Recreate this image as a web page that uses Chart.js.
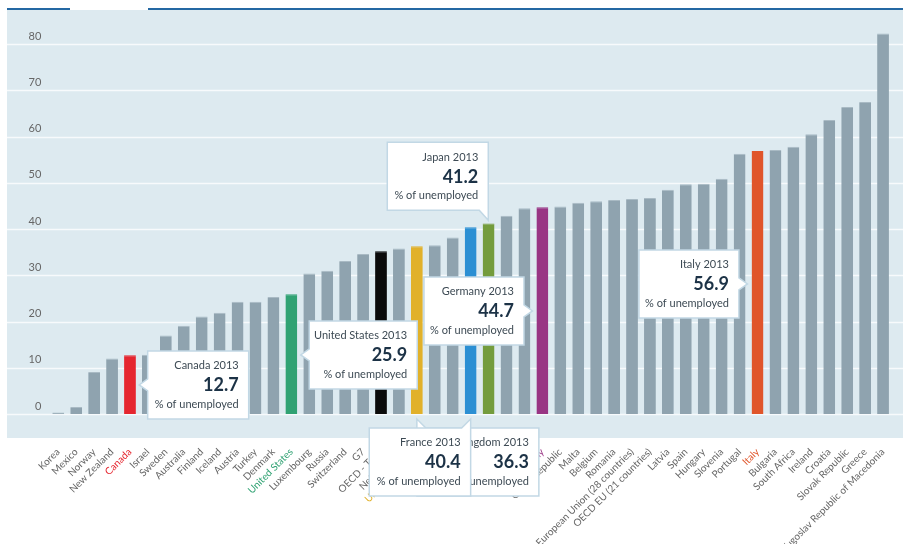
<!DOCTYPE html>
<html>
<head>
<meta charset="utf-8">
<title>Long-term unemployment 2013</title>
<script src="https://cdn.jsdelivr.net/npm/chart.js@4.4.1/dist/chart.umd.min.js"></script>
<style>
  html, body { margin: 0; padding: 0; background: #fff; }
  #wrap { position: relative; width: 903px; height: 544px; }
</style>
</head>
<body>
<div id="wrap"><canvas id="unemployment-chart" width="903" height="544"></canvas></div>
<script>
// Data: share of unemployed out of work for a year or more, 2013
const countries = [
    'Korea', 'Mexico', 'Norway', 'New Zealand', 'Canada', 'Israel', 'Sweden', 'Australia',
    'Finland', 'Iceland', 'Austria', 'Turkey', 'Denmark', 'United States', 'Luxembourg',
    'Russia', 'Switzerland', 'G7', 'OECD - Total', 'Netherlands', 'United Kingdom', 'Poland',
    'Cyprus', 'France', 'Japan', 'Lithuania', 'Estonia', 'Germany', 'Czech Republic', 'Malta',
    'Belgium', 'Romania', 'European Union (28 countries)', 'OECD EU (21 countries)', 'Latvia',
    'Spain', 'Hungary', 'Slovenia', 'Portugal', 'Italy', 'Bulgaria', 'South Africa', 'Ireland',
    'Croatia', 'Slovak Republic', 'Greece', 'Former Yugoslav Republic of Macedonia'
];
const shares = [
    0.3, 1.5, 9.1, 12.0, 12.7, 12.8, 17.0, 19.1,
    21.1, 21.9, 24.3, 24.3, 25.3, 25.9, 30.4,
    31.0, 33.1, 34.6, 35.2, 35.8, 36.3, 36.5,
    38.2, 40.4, 41.2, 42.9, 44.5, 44.7, 44.9, 45.7,
    46.0, 46.3, 46.5, 46.7, 48.5,
    49.7, 49.8, 50.9, 56.3, 56.9, 57.1, 57.8, 60.5,
    63.6, 66.4, 67.5, 82.3
];
const yTicks = [0, 10, 20, 30, 40, 50, 60, 70, 80];

// Callouts
const calloutCountries = ['Japan', 'Germany', 'Italy', 'Canada', 'United States', 'United Kingdom', 'France'];
const calloutValues = [41.2, 44.7, 56.9, 12.7, 25.9, 36.3, 40.4];
const calloutYear = '2013';
const calloutUnit = '% of unemployed';

// Styles
const highlight = {
    'Canada': '#e5262f',
    'United States': '#30a273',
    'OECD - Total': '#0b0b0b',
    'United Kingdom': '#e1b12b',
    'France': '#2b8fd3',
    'Japan': '#749c3d',
    'Germany': '#993584',
    'Italy': '#e0552a'
};
const labelHighlight = {
    'Canada': '#e5262f',
    'United States': '#30a273',
    'United Kingdom': '#e1b12b',
    'France': '#2b8fd3',
    'Japan': '#749c3d',
    'Germany': '#993584',
    'Italy': '#e0552a'
};
const barGray = '#8fa3af';

// box placement relative to bar centre (bx) and the zero line (y0)
const calloutLayout = {
    'Canada':         { dx: 17.7,   dy: -63,    w: 101, arrow: 'left' },
    'United States':  { dx: 17.9,   dy: -93,    w: 108, arrow: 'left' },
    'Germany':        { dx: -118.4, dy: -137,   w: 100, arrow: 'right' },
    'Italy':          { dx: -118.6, dy: -164,   w: 100, arrow: 'right' },
    'Japan':          { dx: -101.3, dy: -271.7, w: 101, arrow: 'down-right' },
    'France':         { dx: -101.4, dy: 14,     w: 101.4, arrow: 'up-right' },
    'United Kingdom': { dx: 0,      dy: 14,     w: 122, arrow: 'up-left' }
};

const backdropPlugin = {
    id: 'backdrop',
    beforeDraw(chart) {
        const { ctx, chartArea, scales } = chart;
        const left = 7, right = chart.width;
        ctx.save();
        ctx.fillStyle = '#ddeaf0';
        ctx.fillRect(left, chartArea.top, right - left, chartArea.bottom - chartArea.top);
        ctx.strokeStyle = '#f7fafc';
        ctx.lineWidth = 1.6;
        yTicks.forEach(v => {
            const y = Math.round(scales.y.getPixelForValue(v)) + 0.5;
            ctx.beginPath();
            ctx.moveTo(left, y);
            ctx.lineTo(right, y);
            ctx.stroke();
        });
        // top rule with a tab gap
        ctx.strokeStyle = '#2468a3';
        ctx.lineWidth = 2;
        ctx.beginPath();
        ctx.moveTo(left, chartArea.top - 1);
        ctx.lineTo(70, chartArea.top - 1);
        ctx.moveTo(148, chartArea.top - 1);
        ctx.lineTo(right, chartArea.top - 1);
        ctx.stroke();
        ctx.restore();
    }
};

const calloutPlugin = {
    id: 'callouts',
    afterDraw(chart) {
        const { ctx, scales } = chart;
        const meta = chart.getDatasetMeta(0);
        const y0 = scales.y.getPixelForValue(0);
        const h = 68, a = 8.5;
        ctx.save();
        calloutCountries.forEach((name, i) => {
            const bar = meta.data[countries.indexOf(name)];
            const L = calloutLayout[name];
            const x = bar.x + L.dx, y = y0 + L.dy, w = L.w;
            const cy = y + h / 2;
            ctx.beginPath();
            if (L.arrow === 'left') {
                ctx.moveTo(x, y); ctx.lineTo(x + w, y); ctx.lineTo(x + w, y + h); ctx.lineTo(x, y + h);
                ctx.lineTo(x, cy + 6); ctx.lineTo(x - a, cy); ctx.lineTo(x, cy - 6);
            } else if (L.arrow === 'right') {
                ctx.moveTo(x, y); ctx.lineTo(x + w, y); ctx.lineTo(x + w, cy - 6); ctx.lineTo(x + w + a, cy);
                ctx.lineTo(x + w, cy + 6); ctx.lineTo(x + w, y + h); ctx.lineTo(x, y + h);
            } else if (L.arrow === 'down-right') {
                ctx.moveTo(x, y); ctx.lineTo(x + w, y); ctx.lineTo(x + w, y + h + 10);
                ctx.lineTo(x + w - 9, y + h); ctx.lineTo(x, y + h);
            } else if (L.arrow === 'up-right') {
                ctx.moveTo(x, y); ctx.lineTo(x + w - 9, y); ctx.lineTo(x + w, y - 9);
                ctx.lineTo(x + w, y + h); ctx.lineTo(x, y + h);
            } else {
                ctx.moveTo(x, y - 9); ctx.lineTo(x + 9, y); ctx.lineTo(x + w, y);
                ctx.lineTo(x + w, y + h); ctx.lineTo(x, y + h);
            }
            ctx.closePath();
            ctx.fillStyle = '#ffffff';
            ctx.fill();
            ctx.strokeStyle = '#c2d8e5';
            ctx.lineWidth = 1.5;
            ctx.stroke();

            const tx = x + w - 10;
            ctx.textAlign = 'right';
            ctx.textBaseline = 'middle';
            ctx.fillStyle = '#3d4a54';
            ctx.font = '11px Lato';
            ctx.fillText(name + ' ' + calloutYear, tx, y + 14.7);
            ctx.fillStyle = '#1c3246';
            ctx.font = 'bold 18px Lato';
            ctx.fillText(calloutValues[i].toFixed(1), tx, y + 34.5);
            ctx.fillStyle = '#3d4a54';
            ctx.font = '11px Lato';
            ctx.fillText(calloutUnit, tx, y + 53);
        });
        ctx.restore();
    }
};

const ctx = document.getElementById('unemployment-chart').getContext('2d');
new Chart(ctx, {
    type: 'bar',
    data: {
        labels: countries,
        datasets: [{
            data: shares,
            backgroundColor: countries.map(c => highlight[c] || barGray),
            borderColor: countries.map(c => highlight[c] ? highlight[c] : '#a9bac4'),
            borderWidth: { top: 1, left: 0, right: 0, bottom: 0 },
            borderSkipped: 'bottom',
            categoryPercentage: 1,
            barPercentage: 0.66
        }]
    },
    options: {
        responsive: false,
        animation: false,
        layout: { padding: { left: 7, right: 11, top: 10, bottom: 0 } },
        plugins: {
            legend: { display: false },
            tooltip: { enabled: false }
        },
        scales: {
            x: {
                grid: { display: false, drawTicks: false },
                border: { display: false },
                ticks: {
                    autoSkip: false,
                    minRotation: 45,
                    maxRotation: 45,
                    padding: 8,
                    font: { family: 'Lato', size: 10 },
                    color: c => labelHighlight[countries[c.index]] || '#666666'
                },
                afterFit: s => { s.height = 106; s.paddingLeft = 0; s.paddingRight = 0; }
            },
            y: {
                min: -5.2,
                max: 87.4,
                afterBuildTicks: s => { s.ticks = yTicks.map(v => ({ value: v })); },
                grid: { display: false, drawTicks: false },
                border: { display: false },
                ticks: {
                    padding: 8,
                    labelOffset: -8,
                    font: { family: 'Lato', size: 11 },
                    color: '#666666'
                },
                afterFit: s => { s.width = 42.3; s.paddingTop = 0; s.paddingBottom = 0; }
            }
        }
    },
    plugins: [backdropPlugin, calloutPlugin]
});
</script>
</body>
</html>
